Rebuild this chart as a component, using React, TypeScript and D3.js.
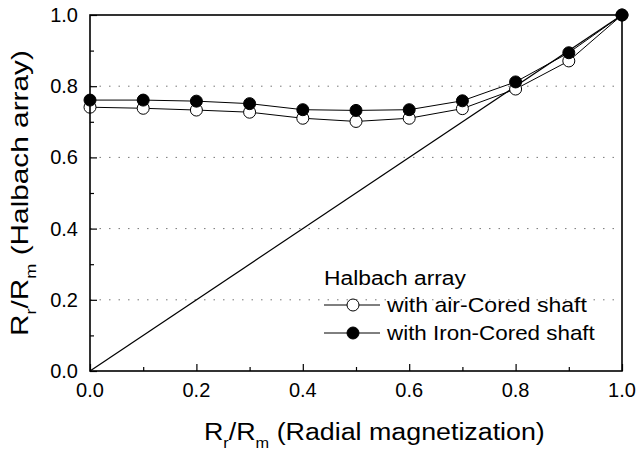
import React, { useEffect, useRef } from 'react';
import * as d3 from 'd3';

// values
const ratio = [0, 0.1, 0.2, 0.3, 0.4, 0.5, 0.6, 0.7, 0.8, 0.9, 1.0];
const airCored = [0.741, 0.738, 0.733, 0.727, 0.71, 0.701, 0.71, 0.737, 0.792, 0.871, 1.0];
const ironCored = [0.761, 0.761, 0.758, 0.751, 0.734, 0.732, 0.734, 0.759, 0.812, 0.894, 1.0];
const diagonal = [0, 1];
const tickValues = [0, 0.2, 0.4, 0.6, 0.8, 1.0];
const minorTicks = [0.1, 0.3, 0.5, 0.7, 0.9];
const gridValues = [0.2, 0.4, 0.6, 0.8];
const legendTitle = 'Halbach array';
const seriesNames = ['with air-Cored shaft', 'with Iron-Cored shaft'];

const W = 636, H = 452;
const left = 90, right = 622, top = 15, bottom = 371;
const FONT = 'Liberation Sans, Arial, sans-serif';

// stretch a text element horizontally so it spans `width` px from its anchor
function stretch(t: any, x0: number, y0: number, width: number, rotate = false) {
    const w = (t.node() as SVGTextElement).getComputedTextLength();
    const s = width / w;
    if (rotate) t.attr('transform', `translate(${x0},${y0}) rotate(-90) scale(${s},1)`);
    else t.attr('transform', `translate(${x0},${y0}) scale(${s},1)`);
}

function App() {
    const ref = useRef<SVGSVGElement>(null);

    useEffect(() => {
        const svg = d3.select(ref.current);
        svg.selectAll('*').remove();

        const x = d3.scaleLinear().domain([0, 1]).range([left, right]);
        const y = d3.scaleLinear().domain([0, 1]).range([bottom, top]);

        // dotted grid
        gridValues.forEach(v => {
            svg.append('line')
                .attr('x1', left).attr('x2', right)
                .attr('y1', y(v)).attr('y2', y(v))
                .style('stroke', '#777')
                .style('stroke-width', 1)
                .style('stroke-dasharray', '1.5 8');
        });

        // inward ticks
        const yMajor = d3.axisRight(y).tickValues(tickValues).tickSize(7).tickFormat(() => '');
        const yMinor = d3.axisRight(y).tickValues(minorTicks).tickSize(4).tickFormat(() => '');
        const xMajor = d3.axisTop(x).tickValues(tickValues).tickSize(7).tickFormat(() => '');
        const xMinor = d3.axisTop(x).tickValues(minorTicks).tickSize(4).tickFormat(() => '');
        [yMajor, yMinor].forEach(a => {
            svg.append('g').attr('transform', `translate(${left},0)`).call(a)
                .call(g => g.select('.domain').remove())
                .selectAll('line').style('stroke', '#000').style('stroke-width', 1.2);
        });
        [xMajor, xMinor].forEach(a => {
            svg.append('g').attr('transform', `translate(0,${bottom})`).call(a)
                .call(g => g.select('.domain').remove())
                .selectAll('line').style('stroke', '#000').style('stroke-width', 1.2);
        });

        // tick labels
        svg.append('g').selectAll('text').data(tickValues).join('text')
            .attr('x', left - 12).attr('y', d => y(d) + 7)
            .attr('text-anchor', 'end').attr('fill', '#000')
            .style('font-family', FONT).style('font-size', '20px')
            .text(d => d.toFixed(1));
        svg.append('g').selectAll('text').data(tickValues).join('text')
            .attr('x', d => x(d)).attr('y', bottom + 26)
            .attr('text-anchor', 'middle').attr('fill', '#000')
            .style('font-family', FONT).style('font-size', '20px')
            .text(d => d.toFixed(1));

        // diagonal reference line
        svg.append('line')
            .attr('x1', x(diagonal[0])).attr('y1', y(diagonal[0]))
            .attr('x2', x(diagonal[1])).attr('y2', y(diagonal[1]))
            .style('stroke', '#000').style('stroke-width', 1.2);

        const line = d3.line<number>()
            .x((d, i) => x(ratio[i]))
            .y(d => y(d));

        const series = [
            { values: airCored, fill: '#fff' },
            { values: ironCored, fill: '#000' },
        ];

        series.forEach(s => {
            svg.append('path')
                .attr('d', line(s.values))
                .attr('fill', 'none')
                .style('stroke', '#000').style('stroke-width', 1);
        });
        series.forEach(s => {
            svg.append('g').selectAll('circle').data(s.values).join('circle')
                .attr('cx', (d, i) => x(ratio[i]))
                .attr('cy', d => y(d))
                .attr('r', 6)
                .attr('fill', s.fill)
                .attr('stroke', '#000').attr('stroke-width', 1);
        });

        // frame
        svg.append('rect')
            .attr('x', left).attr('y', top)
            .attr('width', right - left).attr('height', bottom - top)
            .attr('fill', 'none').attr('stroke', '#000').attr('stroke-width', 1.6);

        // legend
        const lt = svg.append('text')
            .attr('fill', '#000')
            .style('font-family', FONT).style('font-size', '20px')
            .text(legendTitle);
        stretch(lt, 324, 285, 142);
        const legendWidths = [200, 208];
        seriesNames.forEach((name, i) => {
            const ly = 305 + i * 28;
            svg.append('line').attr('x1', 324).attr('x2', 380).attr('y1', ly).attr('y2', ly)
                .style('stroke', '#000').style('stroke-width', 1);
            svg.append('circle').attr('cx', 353).attr('cy', ly).attr('r', 6)
                .attr('fill', series[i].fill).attr('stroke', '#000');
            const t = svg.append('text')
                .attr('fill', '#000')
                .style('font-family', FONT).style('font-size', '20px')
                .text(name);
            stretch(t, 387, ly + 7, legendWidths[i]);
        });

        // axis titles
        const addTitle = (rest: string) => {
            const t = svg.append('text').attr('fill', '#000')
                .style('font-family', FONT).style('font-size', '23px');
            t.append('tspan').text('R');
            t.append('tspan').attr('dy', 8).style('font-size', '14px').text('r');
            t.append('tspan').attr('dy', -8).text('/R');
            t.append('tspan').attr('dy', 8).style('font-size', '14px').text('m');
            t.append('tspan').attr('dy', -8).text(rest);
            return t;
        };
        const xt = addTitle(' (Radial magnetization)');
        stretch(xt, 204, 440, 341);

        const yt = addTitle(' (Halbach array)');
        stretch(yt, 28, 336, 286, true);
    }, []);

    return (
        <svg ref={ref} width={W} height={H}
            style={{ position: 'absolute', left: 0, top: 0, background: '#fff' }} />
    );
}

export default App;
